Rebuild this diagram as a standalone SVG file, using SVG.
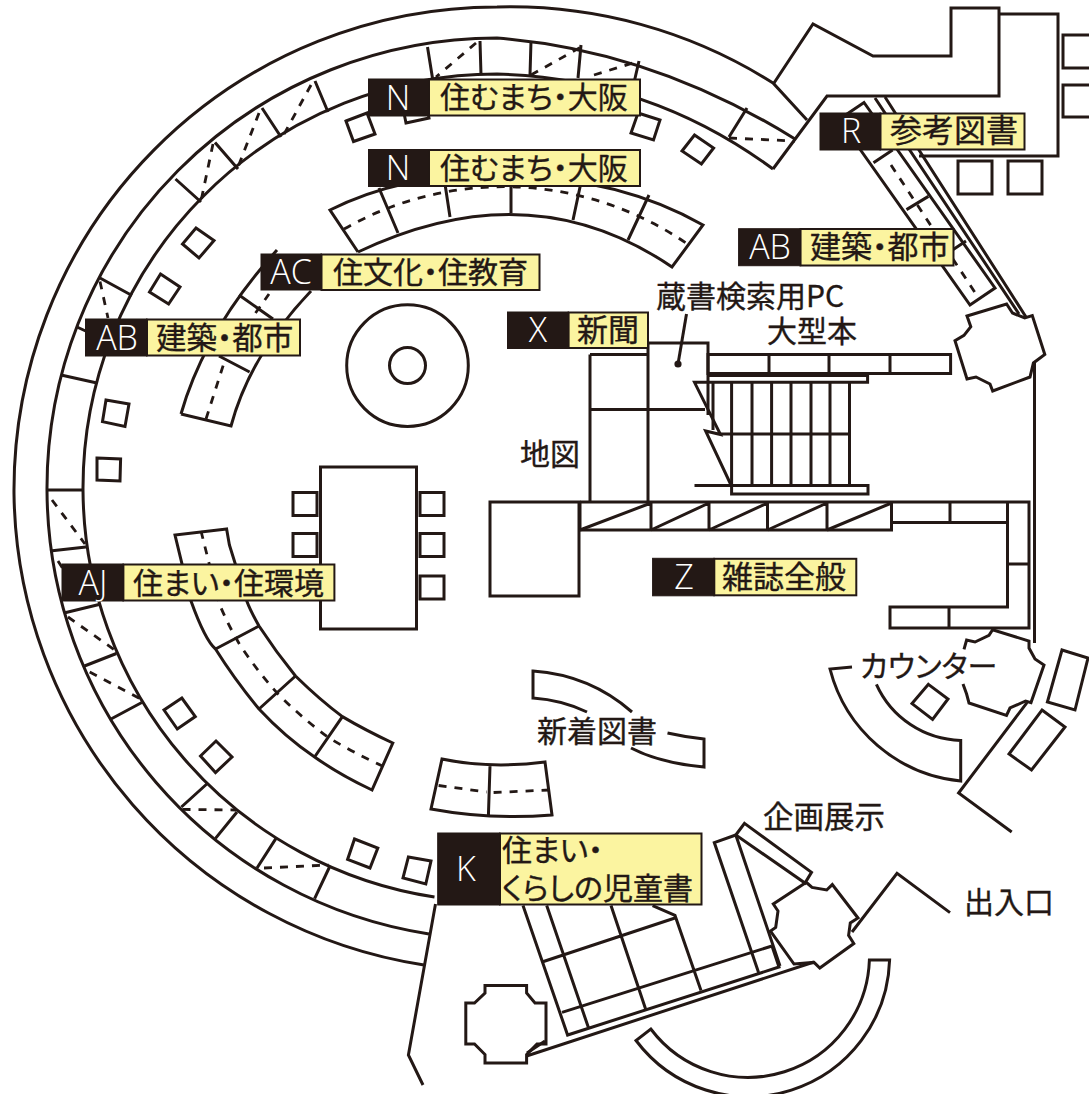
<svg xmlns="http://www.w3.org/2000/svg" width="1089" height="1094" viewBox="0 0 1089 1094">
<style>
.l{fill:none;stroke:#231815;stroke-width:3;stroke-linejoin:miter}
.w{fill:#fff;stroke:#231815;stroke-width:3}
.d{fill:none;stroke:#231815;stroke-width:2.8;stroke-dasharray:8 8}
.b{fill:#231815;stroke:#231815;stroke-width:1}
.y{fill:#fbf4a0;stroke:#231815;stroke-width:2}
.c{font-family:"Noto Sans CJK JP","Noto Sans",sans-serif;font-size:30px;fill:#231815;stroke:#231815;stroke-width:.35;font-feature-settings:"palt"}
.t{font-family:"Open Sans","Noto Sans",sans-serif;font-size:34px;font-weight:300;fill:#fff;text-anchor:middle}
</style>
<rect width="1089" height="1094" fill="#fff"/>
<g id="walls">
<path class="l" d="M424,965 A483,483 0 0 1 14,494 A483,483 0 0 1 497,7 A490,490 0 0 1 773,83 L807,120"/>
<path class="l" d="M429,934 A451,451 0 0 1 47,490 A450,450 0 0 1 497,38 Q652,50 795,139"/>
<path class="l" d="M434.5,897 A414,414 0 0 1 83,490 A414,414 0 0 1 497,74 Q650,78 773,169"/>
<path class="l" d="M773,169 L827,96 H999 V8 H951 V56 H873 L813,24 L774,83"/>
<path class="l" d="M999,14 H1058 V156 H919"/>
<path class="l" d="M435.5,904 L408.4,1055 L423,1085"/>
<rect class="l" x="1063" y="35" width="30" height="33"/>
<rect class="l" x="1063" y="85" width="30" height="32"/>
<rect class="l" x="958" y="161" width="34" height="33"/>
<rect class="l" x="1008" y="161" width="34" height="33"/>
<path class="l" d="M875,98 L1019,314 M885,97 L1026,317"/>
<path class="l" d="M1034.5,361 V643"/>
<path class="l" d="M1027,702.6 L958.6,793 L1011.7,832"/>
<path class="l" d="M852,932 L897,873.4 L950,912.6"/>
</g>
<g id="ring-shelves">
<path class="l" d="M315,81 L328,112 M262,108 L281,137 M215,142.5 L238,169 M175.5,179 L201,202 M100,278 L132,295.5 M77,327 L105,340 M61,375 L97,383 M47,490 H83 M50,551 L86,547 M64,613 L99,604.5 M84.5,666 L116.4,653.5 M111,719 L141.8,702.5 M181.4,807 L206.8,784 M215.5,838.4 L237,812 M257,868 L276,838.4 M314.6,898.6 L329.5,867"/>
<path class="l" d="M427.5,47 L436,100 M480,41 L481,75 M531,41 L530,75 M581,45 L578,78 M639,61 L630,100 M747,108 L729,137"/>
<path class="d" d="M476,43 L436,77 M531,75 L581,47 M594,75 L636,62 M729,138 L795,141 M311,85 L283,136 M259,113 L238,167 M213,144 L201,201 M100,281.5 L108,318 M52,500 L85,544 M58,561 L65,572 M68,617 L114.7,650 M89.7,672 L140.8,699 M182.5,809.4 L236,810 M264,868 L328.5,865"/>
</g>
<g id="seats">
<polygon class="l" points="346,121 367,113 375,134 353.5,141.5"/>
<polygon class="l" points="406,123 429,118 425,98 402,103"/>
<polygon class="l" points="196,228 214,240.5 199,258 182.5,244"/>
<polygon class="l" points="160.5,274 180,287 168.6,304 149.5,292"/>
<polygon class="l" points="106,400 129,404 125,426.5 102.5,421.6"/>
<polygon class="l" points="97,458 120.6,459 120,481 97,480"/>
<polygon class="l" points="638,113 660,120 653.5,140 631,133"/>
<polygon class="l" points="694.5,135 713.6,148 701.4,164 682,151"/>
<polygon class="l" points="181.8,698 195.3,716.6 177.3,729 164,710"/>
<polygon class="l" points="216,741 232,757 215.5,772.6 200.5,756"/>
<polygon class="l" points="354.5,839 377.8,848 370,868 347.6,859.4"/>
<polygon class="l" points="408.4,857 431,861 425.8,884 403,878"/>
<polygon class="l" points="928.4,684.4 948,699 932.6,719.4 912,703.6"/>
<rect class="l" x="293" y="492.5" width="24" height="23"/>
<rect class="l" x="293" y="533.5" width="24" height="23"/>
<rect class="l" x="420" y="492.5" width="24" height="23"/>
<rect class="l" x="420" y="533.5" width="24" height="23"/>
<rect class="l" x="420" y="576" width="24" height="23"/>
<rect class="l" x="320.5" y="467" width="96" height="162"/>
<circle class="l" cx="407.5" cy="365.6" r="60.8"/>
<circle class="l" cx="407.5" cy="365.6" r="18"/>
<rect class="l" x="490" y="502" width="89" height="94"/>
</g>
<g id="shelf-n">
<path class="l" d="M358,252 L330,210 Q410,170 511,176 Q620,178 703,225 L672,267 Q530,170 358,252"/>
<path class="l" d="M379,188 L398,233 M445,184 L450,217 M511,176 V213 M581.5,180 L573,220 M649,195 L628,240"/>
<path class="d" d="M344,229 A323,323 0 0 1 686,243"/>
</g>
<g id="shelf-ac">
<path class="l" d="M181,414 L231,426 Q250,355 311,291 M181,414 Q205,330 277,250"/>
<path class="l" d="M219,356 L249.6,372 M239,295 L273,319"/>
<path class="d" d="M206,419 L224,363 M255.5,313 L269,294"/>
</g>
<g id="shelf-aj">
<path class="l" d="M226.6,529 L175,535 L191,601 Q205,640 215.5,649 Q235,680 259,709 Q285,737 314.6,757 Q340,775 372,790 L392.8,743 Q365,730 342.4,716.6 Q320,700 295.5,676 Q276,652 259,626 Q250,610 246.8,601 L229.4,545 Z"/>
<path class="l" d="M215.5,649 L259,626 M259,709 L295.5,676 M314.6,757 L342.4,716.6"/>
<path class="d" d="M201,531 L219,603 Q228,625 240,645 Q258,672 278,694 Q302,718 328.5,737.6 Q354,753 382.3,766"/>
</g>
<g id="shelf-new">
<path class="l" d="M442,759 Q490,769 545,762 L552,815 Q490,820 431,809 Z M490,766 L488.4,816"/>
<path class="d" d="M438.6,785.5 L486.6,792 M493.6,792.5 L549,790"/>
<path class="l" d="M632,712 Q590,675 533,671 V698 Q562,700 587,712"/>
<path class="l" d="M667.5,733 Q685,737 704,739 V767 Q660,763 631,748"/>
</g>
<g id="center-stacks">
<path class="l" d="M590,354.5 H648 M590,354.5 V502 M590,409.5 H705 M648,502 V343 H708 V415"/>
<rect class="l" x="708" y="354.5" width="242.6" height="19"/>
<path class="l" d="M769,354.5 V373.5 M829,354.5 V373.5 M890,354.5 V373.5"/>
<path class="l" d="M708,375.4 H867.6 V382.3 H694.5 L720.5,434.5 L705.6,431 L731,485"/>
<path class="l" d="M713,382 V430 M731.6,382 V486 M752,382 V486 M771.6,382 V486 M791,382 V486 M811,382 V486 M830,382 V486 M849.5,382 V486 M720,434 H849.5"/>
<path class="l" d="M694.5,485.6 H868 V494 H731.6 V486"/>
<path class="l" d="M580,502 H1029 V628 H890 V607 H1007.5 V502 M580,502 V530 H891.5 V502 M891.5,522.5 H1007.5 M950,502 V522.5 M949,607 V628 M1007.5,564 H1029"/>
<path class="l" d="M651,502 V530 M709,502 V530 M767.5,502 V530 M827,502 V530 M580,530 L651,503 M651,530 L709,503 M709,530 L767.5,503 M767.5,530 L827,503 M827,530 L891.5,503"/>
<path class="l" d="M686.5,314 L678,364"/>
<circle cx="678" cy="364" r="3.6" fill="#231815"/>
</g>
<g id="shelf-r">
<polygon class="l" points="864,102.5 995,288 970,305 839,119.5"/>
<path class="l" d="M873.5,162.7 L892.6,150 M906.5,209.6 L928.4,196.4 M945,255 L966,241"/>
<path class="d" d="M891,165 L976,294"/>
</g>
<g id="pillars">
<polygon class="w" points="967,316 1006.6,304 1012.5,313 1024.7,318 1032.3,315.6 1044.8,354.5 1033.4,363 1030,377 992.7,391 990,384 976,377 967,379 955,340.6 964,335.4 970.8,326.7"/>
<path class="l" d="M963,684 L966.6,694 L969,703 L1006.5,715.5 L1010,708 L1025.6,701 L1031,702.6 L1044,665 L1035,659 L1029,648 L1029,641 L992.6,629.7 L989,635.3 L975,642 L966.6,640 L964,649.3"/>
<polygon class="w" points="807,883 812,887.4 826.7,890 832.3,884.6 858,918 850.3,923 848.6,935.4 853.8,943.5 819.8,968 814,962.4 794,964 770.5,931 775.7,927.4 778,911 773.3,904 805.2,883"/>
<polygon class="w" points="485,985.5 526.6,985.5 526.6,993 535,1003 546,1003 546,1044 537,1044 526.6,1054.5 526.6,1063 485,1063 485,1054.5 474.5,1044 465.8,1044 465.8,1003 474.5,1003 485,993"/>
</g>
<g id="counter">
<path class="l" d="M852,667 L830,669 A150,150 0 0 0 960.7,781 V740.4 A95,95 0 0 1 876.4,684.4"/>
<polygon class="l" points="1062,650 1088,658 1075,710 1047.4,702"/>
<polygon class="l" points="1042,710 1065,727 1031.5,770 1009,754"/>
</g>
<g id="exhibit">
<polygon class="l" points="744.5,823.4 811.5,872.4 805,883 735.8,835"/>
<path class="l" d="M735.8,835 L714.3,842.6 L758.4,972 M735.8,835 L780,966 M772,946 L779,967 L567.6,1035 L523,905.6"/>
<path class="l" d="M814,962 L526.6,1056 M527,1053 L545,1041"/>
<path class="l" d="M772,946 L562,1012.4 M652.6,905.6 L675,915.4 L701,990.4 M675,918 L542,962 M611,905.6 L645.6,1009 M546.7,905.6 L588.4,1027.5"/>
<path class="l" d="M869.4,960 H889.6 A141,141 0 0 1 636,1040.5 L650.8,1029 A121.6,121.6 0 0 0 869.4,960 Z"/>
</g>
<g id="label-n1"><rect class="y" x="429" y="79.5" width="211" height="36"/><rect class="b" x="368.5" y="79" width="60.5" height="37"/><text class="t" x="398" y="110">N</text><text class="c" x="440" y="108">住むまち・大阪</text></g>
<g id="label-n2"><rect class="y" x="429" y="150" width="211" height="36"/><rect class="b" x="368.5" y="149.5" width="60.5" height="37"/><text class="t" x="398" y="180">N</text><text class="c" x="440" y="179">住むまち・大阪</text></g>
<g id="label-r"><rect class="y" x="880.5" y="113.5" width="144" height="36"/><rect class="b" x="820" y="113" width="60.5" height="37"/><text class="t" x="851" y="143">R</text><text class="c" x="890" y="142" style="font-size:32px">参考図書</text></g>
<g id="label-ab2"><rect class="y" x="800.5" y="229" width="153" height="36.5"/><rect class="b" x="738.6" y="228.7" width="62" height="37"/><text class="t" x="770" y="259">AB</text><text class="c" x="810" y="258" style="font-size:31px">建築・都市</text></g>
<g id="label-ac"><rect class="y" x="321.5" y="254.5" width="218" height="35.5"/><rect class="b" x="261" y="254" width="60.5" height="36"/><text class="t" x="291" y="284">AC</text><text class="c" x="333" y="283">住文化・住教育</text></g>
<g id="label-ab1"><rect class="y" x="147" y="319.5" width="153" height="36"/><rect class="b" x="85.5" y="319" width="61.5" height="37"/><text class="t" x="117" y="350">AB</text><text class="c" x="156" y="349" style="font-size:30.5px">建築・都市</text></g>
<g id="label-x"><rect class="y" x="568.6" y="312.5" width="79.4" height="35.5"/><rect class="b" x="507.5" y="312" width="61" height="36.5"/><text class="t" x="538" y="342">X</text><text class="c" x="577" y="341" style="font-size:31px">新聞</text></g>
<g id="label-aj"><rect class="y" x="123.4" y="564.5" width="211" height="36"/><rect class="b" x="62" y="564" width="61.4" height="37"/><text class="t" x="93" y="595">AJ</text><text class="c" x="133" y="594">住まい・住環境</text></g>
<g id="label-z"><rect class="y" x="714.3" y="558.8" width="142" height="36.5"/><rect class="b" x="652.6" y="558.3" width="61.7" height="37.5"/><text class="t" x="684" y="589">Z</text><text class="c" x="722" y="588" style="font-size:31px">雑誌全般</text></g>
<g id="label-k"><rect class="y" x="500" y="833.5" width="201.5" height="71"/><rect class="b" x="437.7" y="833" width="62.3" height="72"/><text class="t" x="466" y="881">K</text><text class="c" x="502" y="861">住まい・</text><text class="c" x="502" y="899">くらしの児童書</text></g>
<g id="texts">
<text class="c" x="656" y="307">蔵書検索用PC</text>
<text class="c" x="767" y="342">大型本</text>
<text class="c" x="520" y="465">地図</text>
<text class="c" x="860" y="677">カウンター</text>
<text class="c" x="537" y="742">新着図書</text>
<text class="c" x="763" y="828" style="font-size:30.5px">企画展示</text>
<text class="c" x="964" y="913">出入口</text>
</g>
</svg>
